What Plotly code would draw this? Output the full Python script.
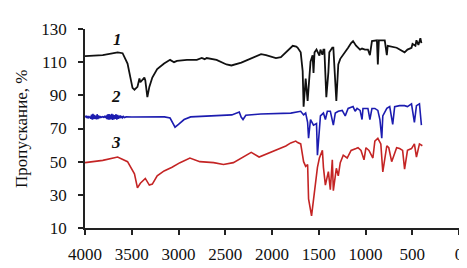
import plotly.graph_objects as go

# Curve 1 (black)
wn1 = [4000, 3810, 3651, 3598, 3545, 3503, 3492, 3471, 3439, 3418, 3408, 3365, 3355, 3333, 3312, 3280,
       3228, 3154, 3090, 3048, 3016, 2910, 2804, 2751, 2720, 2699, 2593, 2487, 2434, 2328, 2222, 2117,
       2064, 1958, 1905, 1852, 1799, 1778, 1740, 1725, 1693, 1672, 1662, 1640, 1619, 1609, 1588, 1566,
       1556, 1545, 1524, 1493, 1482, 1461, 1450, 1440, 1419, 1397, 1387, 1355, 1344, 1312, 1291, 1270,
       1217, 1186, 1154, 1133, 1101, 1058, 1037, 1006, 974, 953, 931, 878, 868, 857, 794, 772,
       762, 667, 582, 551, 508, 497, 466, 455, 434, 413, 402]
t1 = [113.7, 114.2, 115.9, 115.4, 109.2, 99.0, 94.5, 93.4, 95.1, 100.1, 97.9, 100.7, 99.0, 88.9, 95.1, 100.7,
      105.8, 109.2, 111.4, 110.0, 110.8, 111.4, 111.4, 112.5, 111.8, 112.5, 111.4, 108.6, 108.0, 109.7, 112.5, 114.8,
      114.2, 112.5, 113.0, 115.9, 119.0, 119.9, 119.4, 118.7, 115.9, 104.6, 83.2, 100.1, 86.6, 95.0, 110.3, 114.2,
      103.5, 115.9, 117.6, 114.0, 117.6, 114.5, 117.6, 117.6, 88.9, 104.0, 115.9, 118.7, 118.7, 86.6, 108.6, 112.0,
      115.9, 118.7, 121.5, 122.7, 119.9, 117.6, 118.2, 117.6, 117.6, 114.2, 122.7, 123.2, 108.6, 123.2, 123.2, 114.2,
      119.9, 118.7, 115.9, 117.6, 118.7, 121.0, 119.9, 123.2, 120.4, 124.4, 121.5]

# Curve 2 (blue)
wn2 = [4000, 3990, 3982, 3975, 3968, 3960, 3952, 3945, 3938, 3930, 3922, 3915, 3908, 3900, 3893, 3886,
       3878, 3870, 3862, 3855, 3848, 3840, 3830, 3815, 3800, 3790, 3780, 3772, 3765, 3758, 3750, 3743,
       3736, 3728, 3720, 3713, 3706, 3698, 3690, 3683, 3676, 3668, 3660, 3652, 3645, 3638, 3630, 3622,
       3615, 3608, 3600, 3590, 3580, 3560, 3500, 3300, 3150, 3090, 3060, 3037, 3000, 2940, 2870, 2680,
       2430, 2350, 2330, 2310, 2280, 2120, 1900, 1799, 1693, 1662, 1640, 1619, 1609, 1588, 1556, 1524,
       1514, 1482, 1450, 1429, 1408, 1376, 1344, 1323, 1291, 1249, 1217, 1186, 1133, 1111, 1090, 1058,
       1037, 1027, 974, 953, 931, 900, 868, 846, 826, 815, 772, 741, 709, 688, 635, 582, 551, 508,
       477, 455, 423, 402]
t2 = [76.9, 77.4, 76.3, 77.6, 76.1, 77.5, 76.4, 77.2, 75.8, 78.4, 75.4, 78.8, 75.6, 78.2, 75.9, 77.8,
      75.5, 78.6, 75.7, 77.9, 76.2, 77.4, 76.6, 77.1, 76.8, 77.3, 76.4, 77.9, 75.6, 78.5, 75.3, 78.7,
      75.4, 78.3, 75.6, 78.8, 75.2, 78.4, 75.5, 78.1, 75.8, 78.6, 75.3, 78.2, 75.9, 77.7, 76.1, 77.8,
      76.3, 77.4, 76.5, 77.2, 76.6, 77.0, 76.9, 76.9, 77.0, 76.3, 73.5, 70.8, 72.5, 75.4, 77.0, 77.6,
      78.2, 79.9, 76.9, 75.4, 78.0, 78.7, 79.3, 79.3, 80.4, 78.2, 79.3, 73.7, 64.1, 75.4, 72.0, 73.0,
      53.9, 77.6, 79.3, 75.4, 80.4, 80.4, 72.0, 79.3, 80.4, 80.9, 77.6, 82.1, 83.2, 80.4, 82.1, 80.9,
      75.4, 82.1, 82.1, 75.4, 82.1, 82.1, 80.9, 75.4, 64.1, 77.6, 82.1, 83.2, 72.5, 83.2, 83.8, 83.8,
      83.2, 84.9, 73.7, 83.8, 84.9, 72.0]

# Curve 3 (red)
wn3 = [4000, 3810, 3651, 3545, 3471, 3439, 3408, 3355, 3312, 3280, 3228, 3154, 3069, 2984, 2878, 2772,
       2624, 2519, 2413, 2307, 2222, 2138, 2064, 1958, 1852, 1799, 1778, 1746, 1725, 1693, 1662, 1640,
       1619, 1609, 1577, 1556, 1514, 1493, 1461, 1450, 1429, 1397, 1376, 1355, 1344, 1312, 1291, 1270,
       1238, 1196, 1154, 1101, 1080, 1048, 1016, 995, 963, 921, 900, 868, 836, 815, 772, 751, 720,
       667, 635, 603, 582, 551, 508, 477, 455, 423, 392]
t3 = [49.4, 50.8, 52.8, 50.0, 42.7, 34.2, 37.0, 39.9, 35.9, 36.5, 41.5, 44.4, 46.6, 49.4, 52.2, 50.0,
      49.4, 48.3, 49.4, 52.8, 55.6, 52.8, 54.5, 56.8, 59.5, 61.3, 61.8, 62.4, 61.5, 60.7, 50.0, 47.2,
      48.3, 27.5, 17.3, 27.5, 46.6, 52.2, 56.8, 46.6, 35.9, 44.0, 33.1, 51.1, 32.5, 46.0, 41.5, 49.4,
      53.9, 52.2, 56.8, 57.9, 58.4, 56.8, 51.1, 58.4, 56.8, 52.2, 62.4, 64.1, 60.7, 43.8, 59.6, 58.4,
      50.0, 58.4, 57.9, 56.8, 45.5, 56.8, 57.9, 60.7, 52.8, 60.7, 59.6]

x_ticks = [4000, 3500, 3000, 2500, 2000, 1500, 1000, 500, 0]
y_ticks = [10, 30, 50, 70, 90, 110, 130]
curve_labels = ["1", "2", "3"]
label_x = [3651, 3672, 3672]
label_y = [123.5, 89.0, 61.5]
y_title = "Пропускание, %"

serif = "Liberation Serif, Times New Roman, serif"

fig = go.Figure()
fig.add_trace(go.Scatter(x=wn1, y=t1, mode="lines", line=dict(color="#111111", width=1.8), showlegend=False))
fig.add_trace(go.Scatter(x=wn2, y=t2, mode="lines", line=dict(color="#1c1cb0", width=1.6), showlegend=False))
fig.add_trace(go.Scatter(x=wn3, y=t3, mode="lines", line=dict(color="#c42424", width=1.6), showlegend=False))

for lab, lx, ly in zip(curve_labels, label_x, label_y):
    fig.add_annotation(x=lx, y=ly, text="<b><i>" + lab + "</i></b>", showarrow=False,
                       font=dict(family=serif, size=17, color="#111111"))

fig.add_annotation(x=-0.17, y=0.5, xref="paper", yref="paper", xanchor="center", yanchor="middle",
                   text=y_title, textangle=-90,
                   showarrow=False, font=dict(family=serif, size=17, color="#111111"))

fig.update_xaxes(range=[4000, 0], tickvals=x_ticks, ticktext=[str(v) for v in x_ticks],
                 showline=True, linecolor="#222222", linewidth=1.5, ticks="outside", ticklen=5,
                 tickcolor="#222222", tickwidth=1.5, showgrid=False, zeroline=False,
                 ticklabelstandoff=5,
                 tickfont=dict(family=serif, size=17, color="#111111"))
fig.update_yaxes(range=[10, 130], tickvals=y_ticks, ticktext=[str(v) for v in y_ticks],
                 showline=True, linecolor="#222222", linewidth=1.5, ticks="outside", ticklen=5,
                 tickcolor="#222222", tickwidth=1.5, showgrid=False, zeroline=False,
                 ticklabelstandoff=8,
                 tickfont=dict(family=serif, size=17, color="#111111"))

fig.update_layout(width=467, height=268, margin=dict(l=77, r=12, t=15, b=40),
                  plot_bgcolor="white", paper_bgcolor="white")

fig.write_html("out.html")
